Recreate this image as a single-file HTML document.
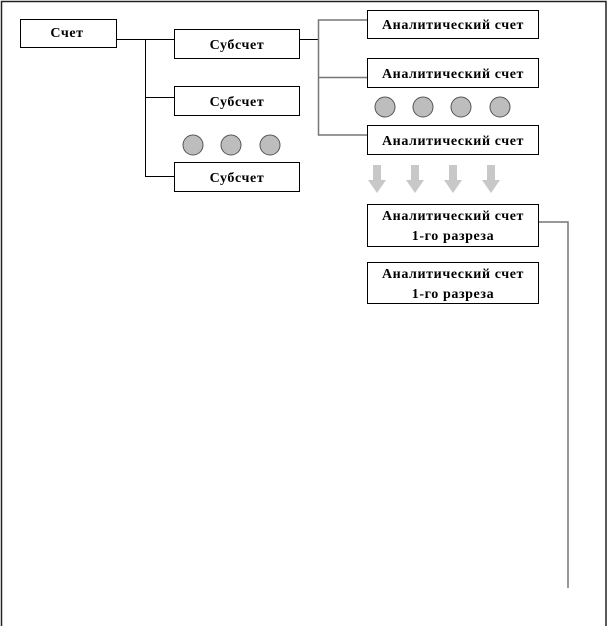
<!DOCTYPE html>
<html><head><meta charset="utf-8"><style>
html,body{margin:0;padding:0;background:#fff;}
svg{display:block;}
text{font-family:"Liberation Serif",serif;font-weight:bold;font-size:14px;letter-spacing:0.6px;fill:#000;}
</style></head><body>
<svg width="607" height="626" viewBox="0 0 607 626" xmlns="http://www.w3.org/2000/svg">
<rect x="0" y="0" width="607" height="626" fill="#fff"/>
<path d="M1.5 626 V1.5 H606 V626" fill="none" stroke="#222" stroke-width="1.5"/>
<g stroke="#000" stroke-width="1" fill="none">
<path d="M116 39.5 H174"/>
<path d="M145.5 39.5 V176.5 H174"/>
<path d="M145.5 97.5 H174"/>
<path d="M300 39.5 H318.5"/>
</g>
<g stroke="#777" stroke-width="1.5" fill="none">
<path d="M367 20 H318.5 V135 H367"/>
<path d="M318.5 77.5 H367"/>
<path d="M539 222 H568 V588"/>
</g>
<g fill="#fff" stroke="#000" stroke-width="1">
<rect x="20.5" y="19.5" width="96" height="28"/>
<rect x="174.5" y="29.5" width="125" height="29"/>
<rect x="174.5" y="86.5" width="125" height="29"/>
<rect x="174.5" y="162.5" width="125" height="29"/>
<rect x="367.5" y="10.5" width="171" height="28"/>
<rect x="367.5" y="58.5" width="171" height="29"/>
<rect x="367.5" y="125.5" width="171" height="29"/>
<rect x="367.5" y="204.5" width="171" height="42"/>
<rect x="367.5" y="262.5" width="171" height="41"/>
</g>
<g fill="#bdbdbd" stroke="#555" stroke-width="1">
<circle cx="193" cy="145" r="10"/><circle cx="231" cy="145" r="10"/><circle cx="270" cy="145" r="10"/>
<circle cx="385" cy="107" r="10"/><circle cx="423" cy="107" r="10"/><circle cx="461" cy="107" r="10"/><circle cx="500" cy="107" r="10"/>
</g>
<g fill="#c8c8c8">
<path d="M373 165 H381 V180 H386 L377 193 L368 180 H373 Z"/>
<path d="M411 165 H419 V180 H424 L415 193 L406 180 H411 Z"/>
<path d="M449 165 H457 V180 H462 L453 193 L444 180 H449 Z"/>
<path d="M487 165 H495 V180 H500 L491 193 L482 180 H487 Z"/>
</g>
<g text-anchor="middle">
<text x="67" y="37">Счет</text>
<text x="237" y="49">Субсчет</text>
<text x="237" y="106">Субсчет</text>
<text x="237" y="182">Субсчет</text>
<text x="453" y="29">Аналитический счет</text>
<text x="453" y="78">Аналитический счет</text>
<text x="453" y="145">Аналитический счет</text>
<text x="453" y="220">Аналитический счет</text>
<text x="453" y="240">1-го разреза</text>
<text x="453" y="278">Аналитический счет</text>
<text x="453" y="298">1-го разреза</text>
</g>
</svg>
</body></html>
